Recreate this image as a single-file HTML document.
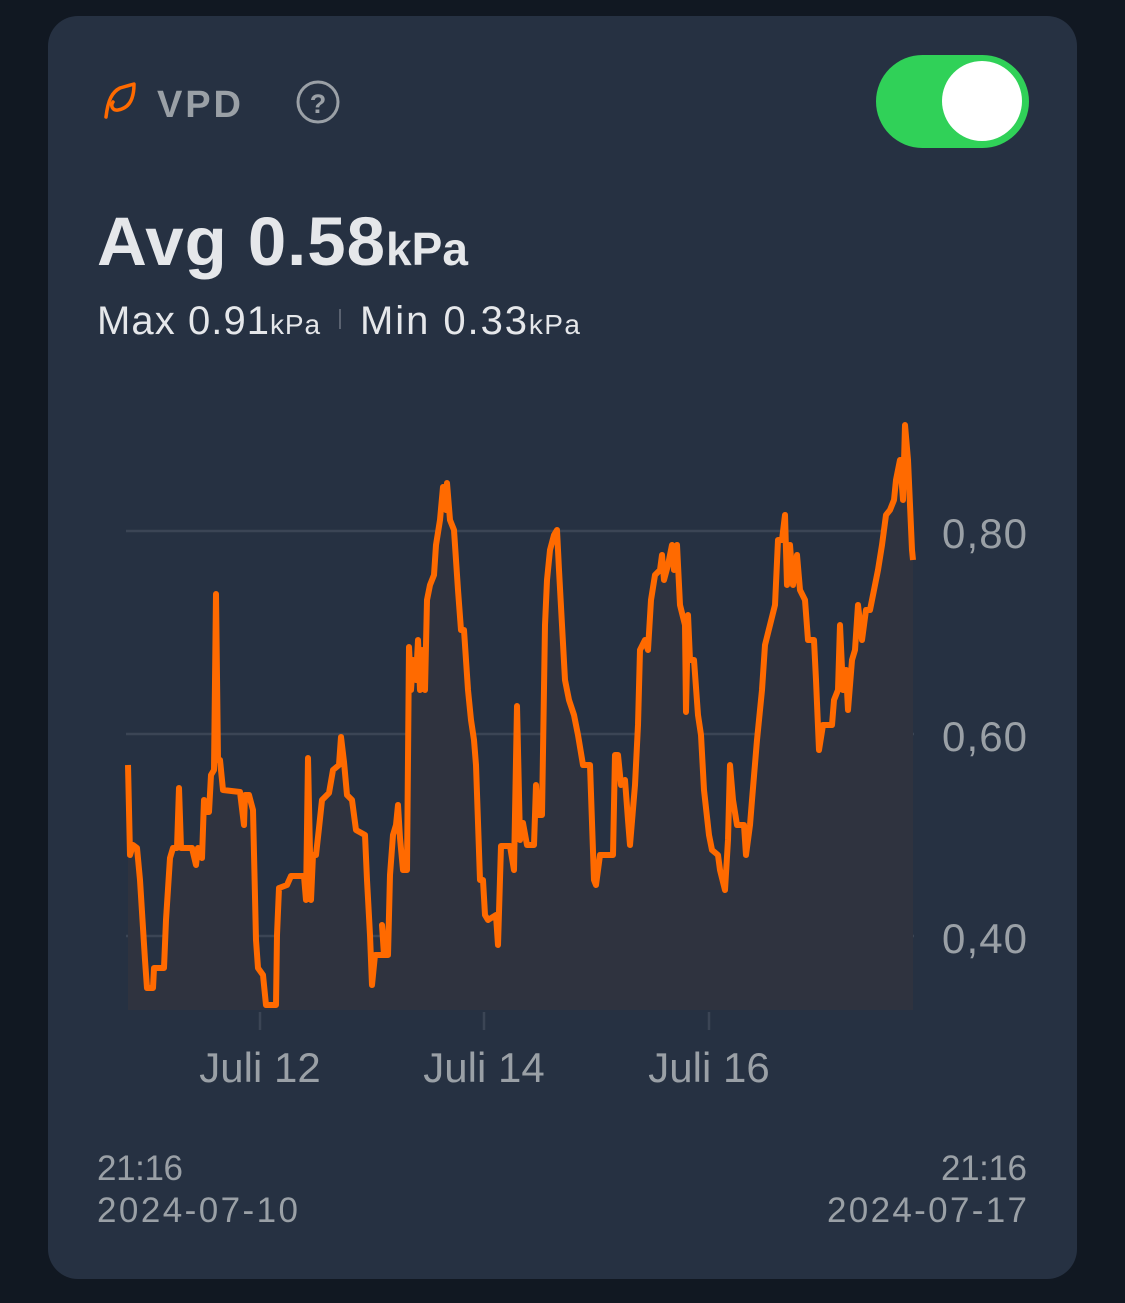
<!DOCTYPE html>
<html><head><meta charset="utf-8"><style>
html,body{margin:0;padding:0;background:#111822;}
svg{display:block}
text{font-family:"Liberation Sans",sans-serif}
</style></head><body>
<svg width="1125" height="1303" viewBox="0 0 1125 1303" xmlns="http://www.w3.org/2000/svg">
<rect x="0" y="0" width="1125" height="1303" fill="#111822"/>
<rect x="48" y="16" width="1029" height="1263" rx="30" fill="#263142"/>
<path d="M106 117 C108 100 112 92 120 88 L134 84 C134 96 131 108 118 110 C113 111 110 106 113 102" fill="none" stroke="#ff6a00" stroke-width="3.5" stroke-linecap="round" stroke-linejoin="round"/>
<text x="157" y="117" font-size="38" font-weight="bold" fill="#9aa0a6" textLength="84">VPD</text>
<circle cx="318" cy="102" r="20" fill="none" stroke="#9aa0a6" stroke-width="3"/>
<text x="318" y="113" font-size="27" font-weight="bold" fill="#9aa0a6" text-anchor="middle">?</text>
<rect x="876" y="55" width="153" height="93" rx="46.5" fill="#30d158"/>
<circle cx="982" cy="101" r="40" fill="#ffffff"/>
<text x="97" y="265" font-size="69" font-weight="bold" fill="#e5e7ea"><tspan textLength="288">Avg 0.58</tspan><tspan font-size="46" textLength="82">kPa</tspan></text>
<text x="97" y="334" font-size="40" fill="#e5e7ea"><tspan textLength="172">Max 0.91</tspan><tspan font-size="28" textLength="50">kPa</tspan></text>
<rect x="339" y="309" width="2" height="20" fill="#5a6270"/>
<text x="360" y="334" font-size="40" fill="#e5e7ea"><tspan textLength="167">Min 0.33</tspan><tspan font-size="28" textLength="51">kPa</tspan></text>
<g stroke="#3b4555" stroke-width="2.5">
<line x1="126" y1="531" x2="914" y2="531"/>
<line x1="126" y1="734" x2="914" y2="734"/>
<line x1="126" y1="936" x2="914" y2="936"/>
<line x1="260" y1="1012" x2="260" y2="1030"/>
<line x1="484" y1="1012" x2="484" y2="1030"/>
<line x1="709" y1="1012" x2="709" y2="1030"/>
</g>
<g font-size="42" fill="#9aa0a6">
<text x="942" y="548" textLength="85">0,80</text>
<text x="942" y="751" textLength="85">0,60</text>
<text x="942" y="953" textLength="85">0,40</text>
<text x="260" y="1082" text-anchor="middle">Juli 12</text>
<text x="484" y="1082" text-anchor="middle">Juli 14</text>
<text x="709" y="1082" text-anchor="middle">Juli 16</text>
</g>
<g font-size="35" fill="#9aa0a6">
<text x="97" y="1180" textLength="86">21:16</text>
<text x="97" y="1222" textLength="201">2024-07-10</text>
<text x="941" y="1180" textLength="86">21:16</text>
<text x="827" y="1222" textLength="200">2024-07-17</text>
</g>
<polygon fill="#2f333f" points="128,1010 128,765 130,855 133,845 137,848 140,880 145,960 147,988 153,988 154,968 164,968 166,920 170,858 173,848 177,848 179,788 181,848 190,848 192,848 196,865 198,848 202,858 204,800 206,812 209,812 211,775 214,770 216,594 218,760 220,760 223,790 240,792 244,825 245,795 249,795 253,810 256,940 258,968 263,975 266,1005 276,1005 277,935 279,888 287,885 291,876 304,876 306,900 308,758 311,900 313,855 316,855 319,828 322,800 329,793 333,770 339,765 341,737 344,762 347,795 352,800 356,830 365,835 367,880 370,935 372,985 375,955 384,955 382,925 385,955 388,955 390,875 393,835 396,825 398,805 400,838 403,870 407,870 409,647 411,690 413,660 416,680 418,640 420,690 422,650 425,690 427,600 430,585 434,575 436,545 440,520 443,487 446,510 447,483 450,520 454,530 458,590 461,630 464,630 468,690 471,720 474,740 476,765 480,880 483,880 485,915 488,920 496,915 498,945 501,846 510,846 514,870 517,706 520,840 523,823 527,845 534,845 536,785 538,815 542,815 545,625 547,580 550,550 554,535 557,530 559,570 562,625 565,680 569,700 574,715 578,735 583,765 590,765 594,880 596,885 600,855 613,855 615,755 618,755 621,785 625,780 628,820 630,845 635,785 638,725 640,650 645,640 648,650 651,600 655,575 660,570 662,555 664,580 668,565 672,545 674,570 677,545 680,605 685,625 686,712 688,615 690,660 694,660 698,715 701,735 704,790 709,835 712,850 718,855 720,870 725,890 728,840 730,765 733,800 737,825 744,825 746,855 750,825 752,800 757,740 762,690 765,645 770,625 775,605 778,540 782,540 785,515 787,585 790,545 793,585 797,555 800,590 805,600 808,640 814,640 816,680 819,750 823,725 832,725 834,700 838,690 840,625 843,690 846,670 848,710 852,660 855,650 858,605 862,640 866,610 870,610 874,590 878,570 882,545 886,515 890,510 894,500 896,480 900,460 903,500 905,425 908,460 912,550 913,560 913,1010"/>
<polyline fill="none" stroke="#ff6a00" stroke-width="6" stroke-linejoin="round" points="128,765 130,855 133,845 137,848 140,880 145,960 147,988 153,988 154,968 164,968 166,920 170,858 173,848 177,848 179,788 181,848 190,848 192,848 196,865 198,848 202,858 204,800 206,812 209,812 211,775 214,770 216,594 218,760 220,760 223,790 240,792 244,825 245,795 249,795 253,810 256,940 258,968 263,975 266,1005 276,1005 277,935 279,888 287,885 291,876 304,876 306,900 308,758 311,900 313,855 316,855 319,828 322,800 329,793 333,770 339,765 341,737 344,762 347,795 352,800 356,830 365,835 367,880 370,935 372,985 375,955 384,955 382,925 385,955 388,955 390,875 393,835 396,825 398,805 400,838 403,870 407,870 409,647 411,690 413,660 416,680 418,640 420,690 422,650 425,690 427,600 430,585 434,575 436,545 440,520 443,487 446,510 447,483 450,520 454,530 458,590 461,630 464,630 468,690 471,720 474,740 476,765 480,880 483,880 485,915 488,920 496,915 498,945 501,846 510,846 514,870 517,706 520,840 523,823 527,845 534,845 536,785 538,815 542,815 545,625 547,580 550,550 554,535 557,530 559,570 562,625 565,680 569,700 574,715 578,735 583,765 590,765 594,880 596,885 600,855 613,855 615,755 618,755 621,785 625,780 628,820 630,845 635,785 638,725 640,650 645,640 648,650 651,600 655,575 660,570 662,555 664,580 668,565 672,545 674,570 677,545 680,605 685,625 686,712 688,615 690,660 694,660 698,715 701,735 704,790 709,835 712,850 718,855 720,870 725,890 728,840 730,765 733,800 737,825 744,825 746,855 750,825 752,800 757,740 762,690 765,645 770,625 775,605 778,540 782,540 785,515 787,585 790,545 793,585 797,555 800,590 805,600 808,640 814,640 816,680 819,750 823,725 832,725 834,700 838,690 840,625 843,690 846,670 848,710 852,660 855,650 858,605 862,640 866,610 870,610 874,590 878,570 882,545 886,515 890,510 894,500 896,480 900,460 903,500 905,425 908,460 912,550 913,560"/>
</svg>
</body></html>
